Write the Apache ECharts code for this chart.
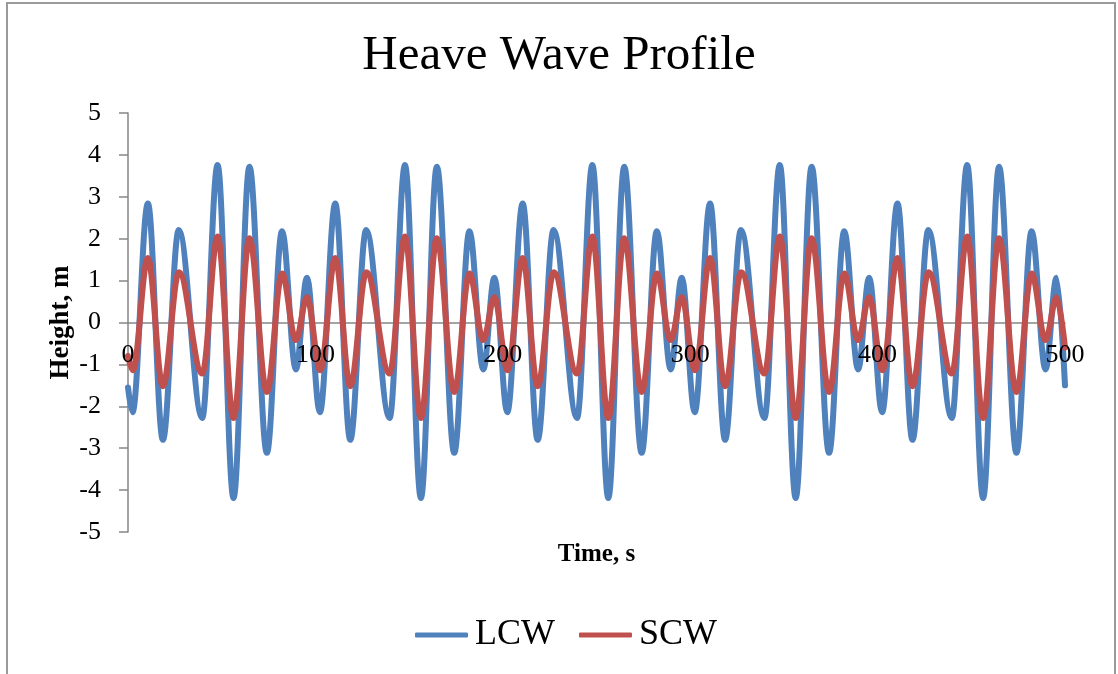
<!DOCTYPE html>
<html>
<head>
<meta charset="utf-8">
<title>Heave Wave Profile</title>
<script src="https://cdn.jsdelivr.net/npm/echarts@6/dist/echarts.min.js"></script>
<style>
  html, body { margin: 0; padding: 0; background: #ffffff; }
  #chart { width: 1118px; height: 674px; }
</style>
</head>
<body>
<div id="chart"></div>
<script>
// Turning points of the two heave records (time in s, height in m)
const lcwTimes = [
  0,
  2.4, 10.6, 18.6, 27.1, 39.6, 47.8, 56.3, 64.8, 74.1, 82.2, 89.6, 95.5,
  102.4, 110.6, 118.6, 127.1, 139.6, 147.8, 156.3, 164.8, 174.1, 182.2, 189.6, 195.5,
  202.4, 210.6, 218.6, 227.1, 239.6, 247.8, 256.3, 264.8, 274.1, 282.2, 289.6, 295.5,
  302.4, 310.6, 318.6, 327.1, 339.6, 347.8, 356.3, 364.8, 374.1, 382.2, 389.6, 395.5,
  402.4, 410.6, 418.6, 427.1, 439.6, 447.8, 456.3, 464.8, 474.1, 482.2, 489.6, 495.5,
  500
];
const lcwHeights = [
  -1.55,
  -2.14, 2.84, -2.80, 2.21, -2.28, 3.76, -4.19, 3.72, -3.11, 2.18, -1.12, 1.07,
  -2.14, 2.84, -2.80, 2.21, -2.28, 3.76, -4.19, 3.72, -3.11, 2.18, -1.12, 1.07,
  -2.14, 2.84, -2.80, 2.21, -2.28, 3.76, -4.19, 3.72, -3.11, 2.18, -1.12, 1.07,
  -2.14, 2.84, -2.80, 2.21, -2.28, 3.76, -4.19, 3.72, -3.11, 2.18, -1.12, 1.07,
  -2.14, 2.84, -2.80, 2.21, -2.28, 3.76, -4.19, 3.72, -3.11, 2.18, -1.12, 1.07,
  -1.50
];
const scwTimes = [
  0,
  2.6, 10.6, 18.6, 27.2, 39.6, 47.8, 56.3, 64.8, 74.1, 82.2, 89.6, 95.5,
  102.6, 110.6, 118.6, 127.2, 139.6, 147.8, 156.3, 164.8, 174.1, 182.2, 189.6, 195.5,
  202.6, 210.6, 218.6, 227.2, 239.6, 247.8, 256.3, 264.8, 274.1, 282.2, 289.6, 295.5,
  302.6, 310.6, 318.6, 327.2, 339.6, 347.8, 356.3, 364.8, 374.1, 382.2, 389.6, 395.5,
  402.6, 410.6, 418.6, 427.2, 439.6, 447.8, 456.3, 464.8, 474.1, 482.2, 489.6, 495.5,
  500
];
const scwHeights = [
  -0.80,
  -1.14, 1.54, -1.52, 1.20, -1.22, 2.05, -2.28, 2.01, -1.66, 1.17, -0.42, 0.60,
  -1.14, 1.54, -1.52, 1.20, -1.22, 2.05, -2.28, 2.01, -1.66, 1.17, -0.42, 0.60,
  -1.14, 1.54, -1.52, 1.20, -1.22, 2.05, -2.28, 2.01, -1.66, 1.17, -0.42, 0.60,
  -1.14, 1.54, -1.52, 1.20, -1.22, 2.05, -2.28, 2.01, -1.66, 1.17, -0.42, 0.60,
  -1.14, 1.54, -1.52, 1.20, -1.22, 2.05, -2.28, 2.01, -1.66, 1.17, -0.42, 0.60,
  -0.60
];

const seriesNames = ['LCW', 'SCW'];
const seriesColors = ['#4F81BD', '#C0504D'];

const chartTitle = 'Heave Wave Profile';
const xTitle = 'Time, s';
const yTitle = 'Height, m';

const FONT = '"Liberation Serif", "DejaVu Serif", serif';
const AXIS_GREY = '#868686';

// time axis range
const X_MIN = 0;
const X_MAX = 500;
const X_STEP = 100;

// y range of the plot; the time axis sits on the zero line
const Y_MIN = -5;
const Y_MAX = 5;
const GRID_TOP = 113;
const GRID_BOTTOM = 142;
const PLOT_H = 674 - GRID_TOP - GRID_BOTTOM;
// distance from the bottom edge of the plot up to height 0
const zeroLift = PLOT_H * (0 - Y_MIN) / (Y_MAX - Y_MIN);

function pairs(xs, ys) {
  return xs.map((x, i) => [x, ys[i]]);
}

const chart = echarts.init(document.getElementById('chart'), null, { renderer: 'canvas' });

function waveSeries(name, color, data) {
  return {
    name: name,
    type: 'line',
    xAxisIndex: 0,
    data: data,
    smooth: 0.36,
    smoothMonotone: 'x',
    symbol: 'none',
    showSymbol: false,
    lineStyle: { color: color, width: 6, cap: 'round', join: 'round' },
    itemStyle: { color: color },
    emphasis: { disabled: true },
    animation: false
  };
}

const labelFont = { fontFamily: FONT, fontSize: 26, color: '#000000' };

chart.setOption({
  backgroundColor: '#ffffff',
  animation: false,
  title: {
    text: chartTitle,
    left: 'center',
    top: 27,
    textStyle: { fontFamily: FONT, fontSize: 49, fontWeight: 'normal', color: '#000000' }
  },
  graphic: [{
    type: 'rect',
    silent: true,
    shape: { x: 7, y: 3, width: 1108, height: 720 },
    style: { fill: 'none', stroke: '#9a9a9a', lineWidth: 2 }
  }],
  legend: {
    bottom: 16,
    left: 410,
    icon: 'roundRect',
    itemWidth: 53,
    itemHeight: 5,
    itemGap: 24,
    data: seriesNames,
    textStyle: { fontFamily: FONT, fontSize: 36, color: '#000000', padding: [0, 0, 0, 2] }
  },
  grid: {
    left: 128,
    right: 53,
    top: GRID_TOP,
    bottom: GRID_BOTTOM,
    containLabel: false,
    outerBoundsMode: 'none'
  },
  xAxis: [
    {
      // zero line and axis title, drawn beneath the curves
      type: 'value',
      min: X_MIN,
      max: X_MAX,
      interval: X_STEP,
      offset: -zeroLift,
      z: 0,
      name: xTitle,
      nameLocation: 'middle',
      nameGap: 220,
      nameMoveOverlap: false,
      nameTextStyle: { fontFamily: FONT, fontSize: 25, fontWeight: 'bold', color: '#000000' },
      axisLine: { onZero: false, lineStyle: { color: AXIS_GREY, width: 1.5 } },
      axisTick: { show: false },
      splitLine: { show: false },
      axisLabel: { show: false }
    },
    {
      // tick labels, drawn over the curves
      type: 'value',
      min: X_MIN,
      max: X_MAX,
      interval: X_STEP,
      position: 'bottom',
      offset: -zeroLift,
      z: 5,
      axisLine: { show: false, onZero: false },
      axisTick: { show: false },
      splitLine: { show: false },
      axisLabel: Object.assign({
        margin: 20,
        showMinLabel: true,
        showMaxLabel: true,
        hideOverlap: false
      }, labelFont)
    }
  ],
  yAxis: {
    type: 'value',
    min: Y_MIN,
    max: Y_MAX,
    interval: 1,
    name: yTitle,
    nameLocation: 'middle',
    nameGap: 53,
    nameRotate: 90,
    nameMoveOverlap: false,
    nameTextStyle: { fontFamily: FONT, fontSize: 27, fontWeight: 'bold', color: '#000000' },
    axisLine: { show: true, lineStyle: { color: AXIS_GREY, width: 1.5 } },
    axisTick: { show: true, inside: false, length: 9, lineStyle: { color: AXIS_GREY, width: 1.5 } },
    splitLine: { show: false },
    axisLabel: Object.assign({ margin: 27 }, labelFont)
  },
  series: [
    waveSeries(seriesNames[0], seriesColors[0], pairs(lcwTimes, lcwHeights)),
    waveSeries(seriesNames[1], seriesColors[1], pairs(scwTimes, scwHeights))
  ]
});
</script>
</body>
</html>
